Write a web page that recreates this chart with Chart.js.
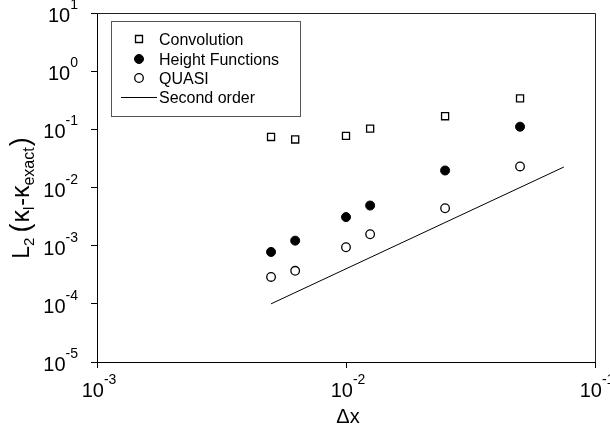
<!DOCTYPE html>
<html>
<head>
<meta charset="utf-8">
<script src="https://cdn.jsdelivr.net/npm/chart.js@4.4.0/dist/chart.umd.min.js"></script>
<style>
  html, body { margin: 0; padding: 0; background: #fff; }
  #wrap { width: 610px; height: 428px; }
</style>
</head>
<body>
<div id="wrap"><canvas id="chart"></canvas></div>
<script>
// grid spacing (x) and L2 curvature errors
const dx = [0.005, 0.00625, 0.01, 0.0125, 0.025, 0.05];
const convolution = [0.074, 0.067, 0.077, 0.103, 0.168, 0.34];
const heightFunctions = [0.00078, 0.00122, 0.0031, 0.0049, 0.0196, 0.111];
const quasi = [0.00029, 0.00037, 0.00094, 0.00157, 0.0044, 0.023];
const orderX = [0.005, 0.075];
const orderY = [0.0001, 0.0225];
const xTickExps = [-3, -2, -1];
const yTickExps = [1, 0, -1, -2, -3, -4, -5];

const FONT = "'Liberation Sans', Arial, sans-serif";

function pts(xs, ys) {
    return xs.map((x, i) => ({ x: x, y: ys[i] }));
}

// draw a run of text pieces (different sizes / baseline shifts) starting at x
function drawParts(ctx, parts, x, y) {
    let cx = x;
    parts.forEach(p => {
        ctx.font = p.s + 'px ' + FONT;
        ctx.fillText(p.t, cx, y + (p.dy || 0));
        cx += ctx.measureText(p.t).width + (p.gap || 0);
    });
    return cx;
}
function partsWidth(ctx, parts) {
    let w = 0;
    parts.forEach(p => {
        ctx.font = p.s + 'px ' + FONT;
        w += ctx.measureText(p.t).width + (p.gap || 0);
    });
    return w;
}
function powParts(e) {
    return [{ t: '10', s: 20 }, { t: String(e), s: 14, dy: -13 }];
}

const decorations = {
    id: 'decorations',
    afterDraw(chart) {
        const ctx = chart.ctx;
        const a = chart.chartArea;
        const xs = chart.scales.x, ys = chart.scales.y;
        ctx.save();

        // top and right frame
        ctx.strokeStyle = '#222';
        ctx.lineWidth = 1;
        ctx.beginPath();
        ctx.moveTo(a.left, Math.round(a.top) + 0.5);
        ctx.lineTo(Math.round(a.right) + 0.5, Math.round(a.top) + 0.5);
        ctx.lineTo(Math.round(a.right) + 0.5, a.bottom);
        ctx.stroke();

        ctx.fillStyle = '#000';
        ctx.textBaseline = 'alphabetic';
        ctx.textAlign = 'left';

        // x tick labels
        xTickExps.forEach(e => {
            const px = xs.getPixelForValue(Math.pow(10, e));
            const parts = powParts(e);
            const w = partsWidth(ctx, parts);
            drawParts(ctx, parts, px - w / 2 + 2, a.bottom + 35);
        });
        // y tick labels
        yTickExps.forEach(e => {
            const py = ys.getPixelForValue(Math.pow(10, e));
            const parts = powParts(e);
            const w = partsWidth(ctx, parts);
            drawParts(ctx, parts, 78 - w, py + 9);
        });

        // x title
        ctx.font = '20px ' + FONT;
        ctx.textAlign = 'center';
        ctx.fillText('\u0394x', 348, 423);
        ctx.textAlign = 'left';

        // y title, rotated
        const tparts = [
            { t: 'L', s: 23 }, { t: '2', s: 15, dy: 5, gap: 5 },
            { t: '(', s: 27, gap: 1 }, { t: '\u03ba', s: 25 }, { t: 'l', s: 15, dy: 5, gap: 1 },
            { t: '-', s: 23 }, { t: '\u03ba', s: 25 }, { t: 'exact', s: 16, dy: 5, gap: 1 },
            { t: ')', s: 27 }
        ];
        ctx.save();
        ctx.translate(29, 198);
        ctx.rotate(-Math.PI / 2);
        drawParts(ctx, tparts, -partsWidth(ctx, tparts) / 2, 0);
        ctx.restore();

        // legend box
        ctx.strokeStyle = '#555';
        ctx.lineWidth = 1;
        ctx.strokeRect(111.5, 21.5, 189, 95);
        const rowY = [39, 59, 78, 97];
        chart.data.datasets.forEach((ds, i) => {
            const y = rowY[i];
            if (ds.showLine) {
                ctx.strokeStyle = ds.borderColor;
                ctx.lineWidth = 1;
                ctx.beginPath();
                ctx.moveTo(121, y + 0.5);
                ctx.lineTo(157, y + 0.5);
                ctx.stroke();
            } else {
                ctx.fillStyle = ds.backgroundColor;
                ctx.strokeStyle = ds.borderColor;
                ctx.lineWidth = ds.borderWidth;
                ctx.beginPath();
                if (ds.pointStyle === 'rect') {
                    ctx.rect(139 - 3.5, y - 3.5, 7, 7);
                } else {
                    ctx.arc(139, y, ds.pointRadius, 0, Math.PI * 2);
                }
                ctx.fill();
                ctx.stroke();
            }
            ctx.fillStyle = '#000';
            ctx.font = '16px ' + FONT;
            ctx.fillText(ds.label, 159, y + 6);
        });

        ctx.restore();
    }
};

const ctx = document.getElementById('chart').getContext('2d');
const chart = new Chart(ctx, {
    type: 'scatter',
    data: {
        datasets: [{
            label: 'Convolution',
            data: pts(dx, convolution),
            pointStyle: 'rect',
            pointRadius: 5,
            borderWidth: 1.3,
            borderColor: '#000',
            backgroundColor: '#fff'
        }, {
            label: 'Height Functions',
            data: pts(dx, heightFunctions),
            pointStyle: 'circle',
            pointRadius: 4.5,
            borderWidth: 1,
            borderColor: '#000',
            backgroundColor: '#000'
        }, {
            label: 'QUASI',
            data: pts(dx, quasi),
            pointStyle: 'circle',
            pointRadius: 4.3,
            borderWidth: 1.3,
            borderColor: '#000',
            backgroundColor: '#fff'
        }, {
            label: 'Second order',
            data: pts(orderX, orderY),
            showLine: true,
            pointRadius: 0,
            borderWidth: 1,
            borderColor: '#000',
            backgroundColor: '#000'
        }]
    },
    options: {
        responsive: true,
        maintainAspectRatio: false,
        animation: false,
        events: [],
        layout: {
            padding: { left: 91, right: 15, top: 13, bottom: 60 }
        },
        plugins: {
            legend: { display: false },
            tooltip: { enabled: false }
        },
        scales: {
            x: {
                type: 'logarithmic',
                min: 1e-3,
                max: 1e-1,
                afterBuildTicks: (scale) => {
                    scale.ticks = xTickExps.map(e => ({ value: Math.pow(10, e) }));
                },
                ticks: { display: false },
                grid: { drawOnChartArea: false, drawTicks: true, tickLength: 6, color: '#000' },
                border: { display: true, color: '#000', width: 1 }
            },
            y: {
                type: 'logarithmic',
                min: 1e-5,
                max: 10,
                afterBuildTicks: (scale) => {
                    scale.ticks = yTickExps.map(e => ({ value: Math.pow(10, e) }));
                },
                ticks: { display: false },
                grid: { drawOnChartArea: false, drawTicks: true, tickLength: 6, color: '#000' },
                border: { display: true, color: '#000', width: 1 }
            }
        }
    },
    plugins: [decorations]
});
</script>
</body>
</html>
